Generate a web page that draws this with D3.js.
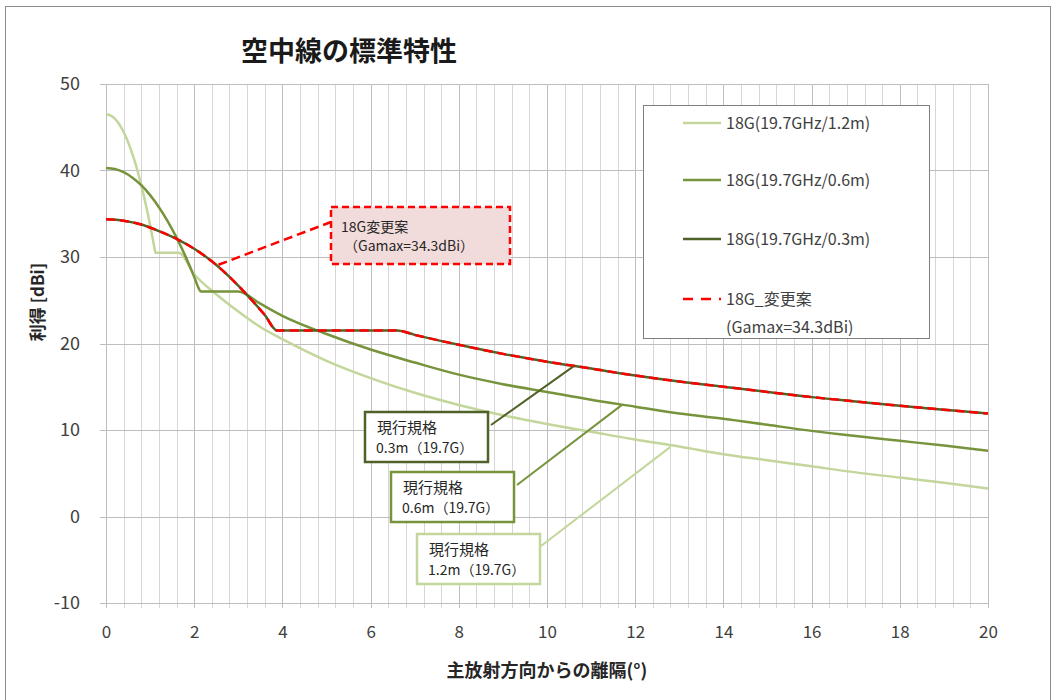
<!DOCTYPE html>
<html>
<head>
<meta charset="utf-8">
<script src="https://cdn.jsdelivr.net/npm/d3@7"></script>
<style>
  html, body { margin: 0; padding: 0; background: #fff; }
  svg { display: block; font-family: "Noto Sans CJK JP", "Noto Sans", sans-serif; }
</style>
</head>
<body>
<svg id="chart" width="1059" height="700"></svg>
<script>
// ---------------- DATA ----------------
const chartTitle = "空中線の標準特性";
const xAxisTitle = "主放射方向からの離隔(°)";
const yAxisTitle = "利得 [dBi]";
const xTicks = [0, 2, 4, 6, 8, 10, 12, 14, 16, 18, 20];
const yTicks = [-10, 0, 10, 20, 30, 40, 50];

// 18G (19.7GHz / 1.2m)
const angle12 = [0, 0.1, 0.2, 0.3, 0.4, 0.5, 0.6, 0.7, 0.8, 0.9, 1.0, 1.1, 1.12, 1.65,
  2.0, 2.5, 3.0, 3.5, 4.0, 5.0, 6.0, 7.0, 8.0, 9.0, 10.0, 11.0, 12.0, 13.0, 14.0,
  15.0, 16.0, 17.0, 18.0, 19.0, 20.0];
const gain12 = [46.5, 46.37, 45.99, 45.35, 44.45, 43.3, 41.89, 40.23, 38.31, 36.13, 33.7, 31.01, 30.5, 30.5,
  28.0, 25.7, 23.7, 21.9, 20.5, 18.0, 16.0, 14.3, 12.9, 11.7, 10.7, 9.8, 8.9, 8.1, 7.2,
  6.5, 5.8, 5.1, 4.5, 3.9, 3.25];

// 18G (19.7GHz / 0.6m)
const angle06 = [0, 0.2, 0.4, 0.6, 0.8, 1.0, 1.2, 1.4, 1.6, 1.8, 2.0, 2.1, 2.15, 3.0,
  3.5, 4, 5, 6, 7, 8, 9, 10, 11, 12, 13, 14, 15, 16, 17, 18, 19, 20];
const gain06 = [40.3, 40.17, 39.8, 39.17, 38.3, 37.15, 35.76, 34.13, 32.24, 30.1, 27.7, 26.4, 26.0, 26.0,
  24.6, 23.2, 21.1, 19.3, 17.8, 16.4, 15.3, 14.4, 13.5, 12.7, 11.9, 11.3, 10.6, 9.9, 9.3, 8.75, 8.2, 7.6];

// 18G (19.7GHz / 0.3m)
const angle03 = [0, 0.4, 0.8, 1.2, 1.6, 2.0, 2.4, 2.8, 3.2, 3.6, 3.88, 6.6,
  7, 8, 9, 10, 11, 12, 13, 14, 15, 16, 17, 18, 19, 20];
const gain03 = [34.35, 34.2, 33.75, 33.0, 32.1, 30.95, 29.5, 27.7, 25.6, 23.3, 21.5, 21.5,
  21.0, 19.85, 18.8, 17.9, 17.1, 16.3, 15.6, 15.0, 14.4, 13.8, 13.3, 12.8, 12.35, 11.9];

// 18G_変更案 (Gamax=34.3dBi) – coincides with the 0.3m curve
const anglePlan = angle03.slice();
const gainPlan = gain03.slice();

const seriesNames = ["18G(19.7GHz/1.2m)", "18G(19.7GHz/0.6m)", "18G(19.7GHz/0.3m)", "18G_変更案"];
const planSub = "(Gamax=34.3dBi)";

// ---------------- LAYOUT / STYLE ----------------
const svg = d3.select("#chart");
const X0 = 106, X1 = 988, Y0 = 84, Y1 = 603;
const x = d3.scaleLinear().domain([0, 20]).range([X0, X1]);
const y = d3.scaleLinear().domain([-10, 50]).range([Y1, Y0]);

const colors = { c12: "#c3d69b", c06: "#77933c", c03: "#4f6228", plan: "#ff0000" };
const txt = "#404040";

// outer frame
svg.append("rect").attr("x", 5.5).attr("y", 6.5).attr("width", 1045).attr("height", 700)
  .attr("fill", "#fff").attr("stroke", "#8c8c8c").attr("stroke-width", 1);

// title
svg.append("text").attr("x", 349).attr("y", 61).attr("text-anchor", "middle")
  .attr("font-size", 27).attr("font-weight", "bold").attr("fill", "#1a1a1a").text(chartTitle);

// vertical grid (every 0.4, darker every 2)
const vg = d3.range(0, 20.0001, 0.4).map(v => +v.toFixed(1));
svg.append("g").selectAll("line").data(vg).join("line")
  .attr("x1", d => Math.round(x(d)) + 0.5).attr("x2", d => Math.round(x(d)) + 0.5)
  .attr("y1", Y0).attr("y2", Y1 + 5)
  .attr("stroke", d => (Math.abs(d / 2 - Math.round(d / 2)) < 1e-6) ? "#bdbdbd" : "#d6d6d6")
  .attr("stroke-width", 1);

// horizontal grid
svg.append("g").selectAll("line").data(yTicks).join("line")
  .attr("x1", X0 - 6).attr("x2", X1)
  .attr("y1", d => Math.round(y(d)) + 0.5).attr("y2", d => Math.round(y(d)) + 0.5)
  .attr("stroke", "#bdbdbd").attr("stroke-width", 1);

// axes (labels)
const xAxis = svg.append("g").attr("transform", `translate(0,${Y1})`)
  .call(d3.axisBottom(x).tickValues(xTicks).tickSize(0).tickPadding(23).tickFormat(d => String(d)));
xAxis.select(".domain").remove();
xAxis.selectAll("text").attr("font-size", 17).attr("fill", txt)
  .attr("font-family", "'Noto Sans CJK JP', sans-serif");

const yAxis = svg.append("g").attr("transform", `translate(${X0},0)`)
  .call(d3.axisLeft(y).tickValues(yTicks).tickSize(0).tickPadding(26).tickFormat(d => String(d)));
yAxis.select(".domain").remove();
yAxis.selectAll("text").attr("font-size", 18).attr("fill", txt)
  .attr("font-family", "'Noto Sans CJK JP', sans-serif");

// axis titles
svg.append("text").attr("x", 547).attr("y", 677).attr("text-anchor", "middle")
  .attr("font-size", 18).attr("font-weight", "bold").attr("fill", "#262626").text(xAxisTitle);
svg.append("text").attr("transform", "translate(44,302) rotate(-90)").attr("text-anchor", "middle")
  .attr("font-size", 17).attr("font-weight", "bold").attr("fill", "#262626").text(yAxisTitle);

// curves
const line = d3.line().x(d => x(d[0])).y(d => y(d[1])).curve(d3.curveMonotoneX);
const zip = (a, b) => a.map((v, i) => [v, b[i]]);
const plot = svg.append("g");
plot.append("path").attr("d", line(zip(angle12, gain12))).attr("fill", "none")
  .attr("stroke", colors.c12).attr("stroke-width", 2.5);
plot.append("path").attr("d", line(zip(angle06, gain06))).attr("fill", "none")
  .attr("stroke", colors.c06).attr("stroke-width", 2.5);
plot.append("path").attr("d", line(zip(angle03, gain03))).attr("fill", "none")
  .attr("stroke", colors.c03).attr("stroke-width", 2.5);
plot.append("path").attr("d", line(zip(anglePlan, gainPlan))).attr("fill", "none")
  .attr("stroke", colors.plan).attr("stroke-width", 2.5).attr("stroke-dasharray", "9,5");

// legend
const lg = svg.append("g");
lg.append("rect").attr("x", 643.5).attr("y", 105.5).attr("width", 286).attr("height", 233)
  .attr("fill", "#fff").attr("stroke", "#7f7f7f").attr("stroke-width", 1);
const legendRows = [
  { name: seriesNames[0], color: colors.c12, y: 123, dash: null },
  { name: seriesNames[1], color: colors.c06, y: 180, dash: null },
  { name: seriesNames[2], color: colors.c03, y: 239, dash: null },
  { name: seriesNames[3], color: colors.plan, y: 299, dash: "10,8" }
];
legendRows.forEach(r => {
  lg.append("line").attr("x1", 683).attr("x2", 721).attr("y1", r.y).attr("y2", r.y)
    .attr("stroke", r.color).attr("stroke-width", 2.5).attr("stroke-dasharray", r.dash);
  lg.append("text").attr("x", 726).attr("y", r.y).attr("dy", "0.35em")
    .attr("font-size", 16).attr("fill", txt).text(r.name);
});
lg.append("text").attr("x", 726).attr("y", 327).attr("dy", "0.35em")
  .attr("font-size", 16).attr("fill", txt).text(planSub);

// annotation: 18G変更案
const ann = svg.append("g");
ann.append("line").attr("x1", x(2.55)).attr("y1", y(29.1)).attr("x2", 331).attr("y2", 222)
  .attr("stroke", colors.plan).attr("stroke-width", 2.5).attr("stroke-dasharray", "9,5");
ann.append("rect").attr("x", 331).attr("y", 207).attr("width", 179).attr("height", 57)
  .attr("fill", "#f2dcdb").attr("stroke", colors.plan).attr("stroke-width", 2.5)
  .attr("stroke-dasharray", "7,4");
ann.append("text").attr("x", 341).attr("y", 227).attr("dy", "0.35em").attr("font-size", 14)
  .attr("fill", "#262626").text("18G変更案");
ann.append("text").attr("x", 344).attr("y", 246).attr("dy", "0.35em").attr("font-size", 14)
  .attr("fill", "#262626").text("（Gamax=34.3dBi）");

// annotations: 現行規格 boxes
const boxes = [
  { bx: 365, by: 412, w: 123, h: 50, color: colors.c03, sub: "0.3m（19.7G）",
    from: [491, 425], to: [10.6, 17.35] },
  { bx: 391, by: 472, w: 123, h: 50, color: colors.c06, sub: "0.6m（19.7G）",
    from: [517, 485], to: [11.7, 12.9] },
  { bx: 417, by: 534, w: 123, h: 50, color: colors.c12, sub: "1.2m（19.7G）",
    from: [541, 546], to: [12.8, 8.05] }
];
boxes.forEach(b => {
  ann.append("line").attr("x1", b.from[0]).attr("y1", b.from[1])
    .attr("x2", x(b.to[0])).attr("y2", y(b.to[1]))
    .attr("stroke", b.color).attr("stroke-width", 2);
  ann.append("rect").attr("x", b.bx).attr("y", b.by).attr("width", b.w).attr("height", b.h)
    .attr("fill", "#fff").attr("stroke", b.color).attr("stroke-width", 2.5);
  ann.append("text").attr("x", b.bx + 12).attr("y", b.by + 16).attr("dy", "0.35em")
    .attr("font-size", 15).attr("fill", "#262626").text("現行規格");
  ann.append("text").attr("x", b.bx + 11).attr("y", b.by + 36).attr("dy", "0.35em")
    .attr("font-size", 14).attr("fill", "#262626").text(b.sub);
});
</script>
</body>
</html>
